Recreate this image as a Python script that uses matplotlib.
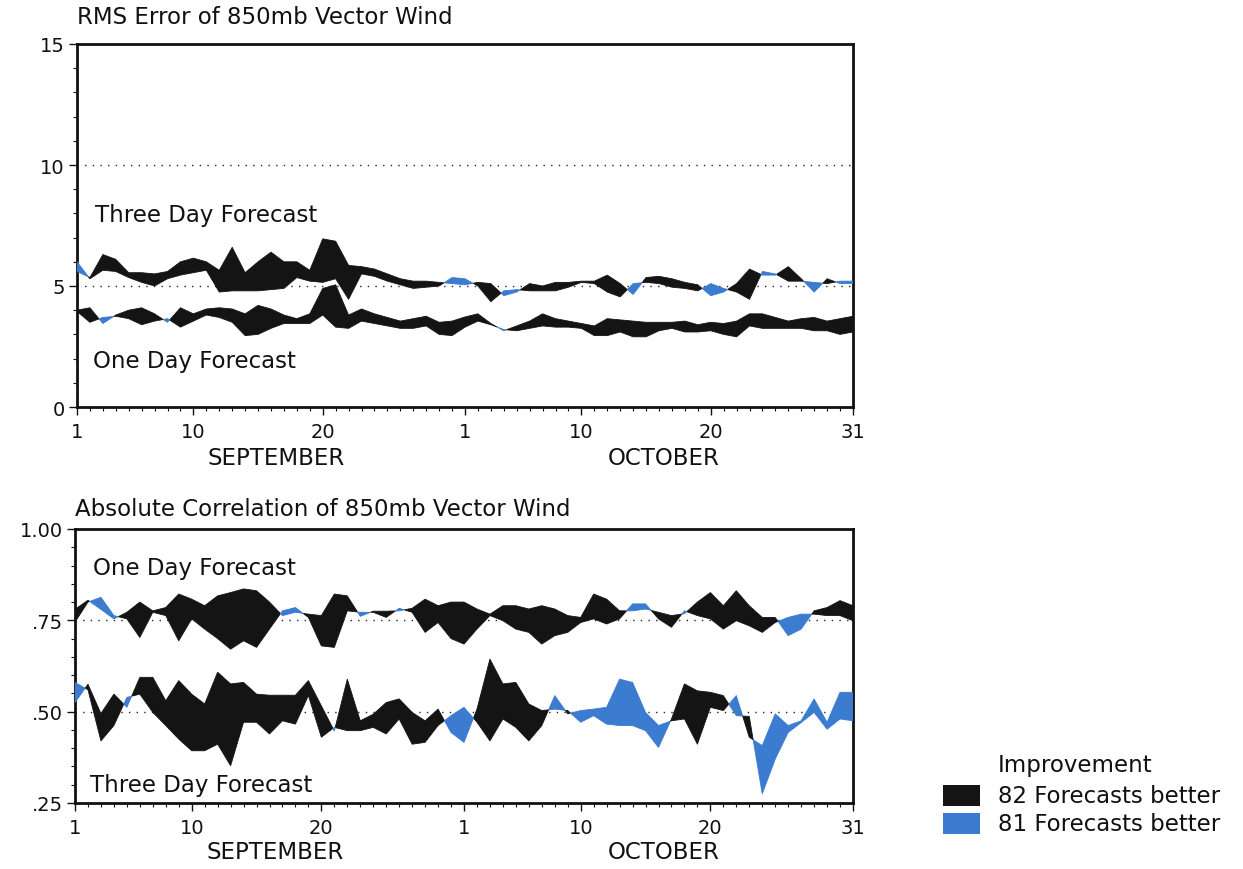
import matplotlib
matplotlib.use('Agg')
import matplotlib.pyplot as plt
import matplotlib.ticker as mticker
from matplotlib.patches import Rectangle

plt.rcParams['font.family'] = ['DejaVu Sans']

BLACK = '#141414'
BLUE = '#3b7bd0'

# day number 1..61 = Sep 1 .. Oct 31
days = list(range(1, 62))

# RMS error, three day forecast (81 and 82 forecasts)
rms3_81 = [5.6, 5.35, 6.3, 6.1, 5.55, 5.55, 5.5, 5.6, 6.0, 6.15,
           6.0, 5.65, 6.6, 5.55, 6.0, 6.4, 6.0, 6.0, 5.65, 6.95,
           6.85, 5.85, 5.8, 5.7, 5.5, 5.3, 5.2, 5.2, 5.15, 5.1,
           5.05, 5.15, 5.1, 4.6, 4.75, 5.1, 5.0, 5.15, 5.15, 5.2,
           5.2, 5.45, 5.1, 4.65, 5.35, 5.4, 5.3, 5.15, 5.05, 4.6,
           4.75, 5.1, 5.7, 5.45, 5.45, 5.8, 5.3, 4.75, 5.3, 5.1, 5.1]
rms3_82 = [6.0, 5.3, 5.65, 5.6, 5.35, 5.15, 5.0, 5.3, 5.45, 5.55,
           5.65, 4.75, 4.8, 4.8, 4.8, 4.85, 4.9, 5.35, 5.2, 5.15,
           5.3, 4.45, 5.5, 5.4, 5.2, 5.05, 4.9, 4.95, 5.0, 5.35,
           5.3, 5.0, 4.35, 4.8, 4.85, 4.8, 4.8, 4.8, 4.95, 5.15,
           5.1, 4.75, 4.55, 5.1, 5.15, 5.1, 4.95, 4.9, 4.8, 5.1,
           4.9, 4.75, 4.45, 5.6, 5.5, 5.2, 5.2, 5.15, 5.1, 5.2, 5.2]

# RMS error, one day forecast
rms1_81 = [4.0, 4.1, 3.45, 3.8, 4.0, 4.1, 3.85, 3.5, 4.1, 3.85,
           4.05, 4.1, 4.05, 3.85, 4.2, 4.05, 3.8, 3.65, 3.85, 4.9,
           5.05, 3.8, 4.05, 3.85, 3.7, 3.55, 3.65, 3.75, 3.5, 3.55,
           3.72, 3.85, 3.45, 3.15, 3.35, 3.55, 3.85, 3.65, 3.55, 3.45,
           3.35, 3.65, 3.6, 3.55, 3.5, 3.5, 3.5, 3.55, 3.4, 3.5,
           3.45, 3.55, 3.85, 3.85, 3.7, 3.55, 3.65, 3.7, 3.55, 3.65, 3.75]
rms1_82 = [3.95, 3.5, 3.7, 3.75, 3.65, 3.4, 3.55, 3.65, 3.3, 3.55,
           3.8, 3.7, 3.5, 2.95, 3.0, 3.25, 3.45, 3.45, 3.45, 3.8,
           3.3, 3.25, 3.55, 3.45, 3.35, 3.25, 3.25, 3.35, 3.0, 2.95,
           3.3, 3.55, 3.4, 3.2, 3.15, 3.25, 3.35, 3.3, 3.3, 3.25,
           2.95, 2.95, 3.1, 2.9, 2.9, 3.15, 3.25, 3.1, 3.1, 3.15,
           3.0, 2.9, 3.35, 3.25, 3.25, 3.25, 3.25, 3.15, 3.15, 3.0, 3.1]

# absolute correlation, one day forecast
cor1_81 = [0.745, 0.80, 0.813, 0.763, 0.754, 0.703, 0.772, 0.763, 0.694, 0.754,
           0.726, 0.70, 0.671, 0.694, 0.676, 0.726, 0.776, 0.785, 0.758, 0.68,
           0.676, 0.776, 0.772, 0.772, 0.758, 0.783, 0.772, 0.717, 0.744, 0.70,
           0.685, 0.726, 0.763, 0.749, 0.726, 0.717, 0.685, 0.708, 0.717, 0.744,
           0.754, 0.74, 0.754, 0.795, 0.795, 0.754, 0.731, 0.776, 0.763, 0.754,
           0.726, 0.749, 0.735, 0.717, 0.744, 0.758, 0.767, 0.767, 0.763, 0.763, 0.749]
cor1_82 = [0.78, 0.805, 0.78, 0.754, 0.772, 0.80, 0.776, 0.785, 0.822, 0.808,
           0.79, 0.817, 0.826, 0.836, 0.831, 0.80, 0.763, 0.772, 0.767, 0.763,
           0.822, 0.817, 0.761, 0.775, 0.775, 0.776, 0.783, 0.808, 0.79, 0.80,
           0.80, 0.781, 0.767, 0.79, 0.79, 0.781, 0.79, 0.781, 0.763, 0.758,
           0.822, 0.808, 0.776, 0.776, 0.781, 0.772, 0.763, 0.768, 0.80, 0.826,
           0.79, 0.831, 0.79, 0.758, 0.758, 0.708, 0.726, 0.776, 0.785, 0.804, 0.79]

# absolute correlation, three day forecast
cor3_81 = [0.58, 0.56, 0.42, 0.462, 0.539, 0.548, 0.498, 0.462, 0.425, 0.393,
           0.393, 0.411, 0.352, 0.471, 0.471, 0.439, 0.475, 0.466, 0.544, 0.43,
           0.457, 0.448, 0.448, 0.457, 0.439, 0.48, 0.411, 0.416, 0.462, 0.489,
           0.512, 0.471, 0.42, 0.48, 0.457, 0.42, 0.462, 0.544, 0.494, 0.503,
           0.507, 0.512, 0.589, 0.58, 0.498, 0.462, 0.475, 0.48, 0.411, 0.512,
           0.503, 0.544, 0.43, 0.407, 0.494, 0.462, 0.475, 0.535, 0.471, 0.553, 0.553]
cor3_82 = [0.525, 0.575, 0.495, 0.548, 0.512, 0.594, 0.594, 0.53, 0.585, 0.548,
           0.521, 0.608, 0.576, 0.58, 0.548, 0.545, 0.545, 0.545, 0.585, 0.516,
           0.447, 0.589, 0.475, 0.493, 0.525, 0.535, 0.498, 0.475, 0.507, 0.443,
           0.416, 0.507, 0.644, 0.576, 0.58, 0.521, 0.503, 0.507, 0.503, 0.471,
           0.489, 0.466, 0.462, 0.462, 0.448, 0.402, 0.48, 0.576, 0.557, 0.553,
           0.544, 0.489, 0.487, 0.275, 0.37, 0.443, 0.47, 0.498, 0.452, 0.48, 0.475]

tick_days = [1, 10, 20, 31, 40, 50, 61]
tick_labels = ['1', '10', '20', '1', '10', '20', '31']
months = ['SEPTEMBER', 'OCTOBER']
month_mid = [16.4, 46.4]

TXT = 16.5


def fill_band(ax, s81, s82, lower_is_better):
    """
    fills between the two forecast series, black where 82 wins,
    blue where 81 wins
    """
    if lower_is_better:
        better82 = [a >= b for a, b in zip(s81, s82)]
    else:
        better82 = [b >= a for a, b in zip(s81, s82)]
    better81 = [not w for w in better82]
    ax.fill_between(days, s81, s82, where=better82, interpolate=True,
                    facecolor=BLACK, edgecolor=BLACK, linewidth=0.6, zorder=3)
    ax.fill_between(days, s81, s82, where=better81, interpolate=True,
                    facecolor=BLUE, edgecolor=BLUE, linewidth=0.6, zorder=3)


def style_axis(ax, month_y):
    """
    spines, ticks and month labels shared by both panels
    """
    ax.set_xlim(1, 61)
    ax.xaxis.set_major_locator(mticker.FixedLocator(tick_days))
    ax.xaxis.set_minor_locator(mticker.MultipleLocator(1))
    ax.set_xticklabels(tick_labels)
    for side in ['left', 'right', 'top', 'bottom']:
        ax.spines[side].set_linewidth(2.0)
        ax.spines[side].set_color('#111111')
    ax.tick_params(which='major', direction='out', length=6, width=1.0,
                   labelsize=14, pad=3, colors='#111111')
    ax.tick_params(axis='x', which='major', pad=5)
    ax.tick_params(which='minor', direction='out', length=3, width=0.8,
                   colors='#111111')
    for mid, name in zip(month_mid, months):
        ax.text(mid, month_y, name, transform=ax.get_xaxis_transform(),
                ha='center', va='center', fontsize=TXT, color='#111111')


fig = plt.figure(figsize=(12.43, 8.7), dpi=100)

# RMS panel
ax1 = fig.add_axes([77 / 1243, 1 - 408 / 870, 776 / 1243, 363 / 870])
ax1.set_ylim(0, 15)
ax1.yaxis.set_major_locator(mticker.MultipleLocator(5))
ax1.yaxis.set_minor_locator(mticker.MultipleLocator(1))
for level in [5, 10]:
    ax1.axhline(level, color='#222222', linestyle=(0, (1, 4.5)), linewidth=1.0, zorder=1)
fill_band(ax1, rms3_81, rms3_82, True)
fill_band(ax1, rms1_81, rms1_82, True)
style_axis(ax1, -0.138)
ax1.text(0.023, 0.529, 'Three Day Forecast', transform=ax1.transAxes,
         ha='left', va='center', fontsize=TXT, color='#111111')
ax1.text(0.021, 0.129, 'One Day Forecast', transform=ax1.transAxes,
         ha='left', va='center', fontsize=TXT, color='#111111')
ax1.text(0.0, 1.075, 'RMS Error of 850mb Vector Wind', transform=ax1.transAxes,
         ha='left', va='center', fontsize=TXT, color='#111111')

# correlation panel
ax2 = fig.add_axes([75 / 1243, 1 - 804 / 870, 778 / 1243, 274 / 870])
ax2.set_ylim(0.25, 1.0)
ax2.yaxis.set_major_locator(mticker.MultipleLocator(0.25))
ax2.yaxis.set_minor_locator(mticker.MultipleLocator(0.05))
ax2.yaxis.set_major_formatter(mticker.FuncFormatter(
    lambda v, p: '1.00' if v >= 0.999 else ('%.2f' % v)[1:]))
for level in [0.5, 0.75]:
    ax2.axhline(level, color='#222222', linestyle=(0, (1, 4.5)), linewidth=1.0, zorder=1)
fill_band(ax2, cor1_81, cor1_82, False)
fill_band(ax2, cor3_81, cor3_82, False)
style_axis(ax2, -0.178)
ax2.text(0.023, 0.861, 'One Day Forecast', transform=ax2.transAxes,
         ha='left', va='center', fontsize=TXT, color='#111111')
ax2.text(0.019, 0.066, 'Three Day Forecast', transform=ax2.transAxes,
         ha='left', va='center', fontsize=TXT, color='#111111')
ax2.text(0.0, 1.075, 'Absolute Correlation of 850mb Vector Wind',
         transform=ax2.transAxes, ha='left', va='center', fontsize=TXT,
         color='#111111')

# legend
fig.text(998 / 1243, 1 - 766 / 870, 'Improvement', ha='left', va='center',
         fontsize=TXT, color='#111111')
legend_rows = [(BLACK, '82 Forecasts better', 797), (BLUE, '81 Forecasts better', 825)]
for color, label, ypix in legend_rows:
    fig.add_artist(Rectangle((943 / 1243, 1 - (ypix + 10) / 870), 37 / 1243, 21 / 870,
                             transform=fig.transFigure, facecolor=color,
                             edgecolor='none'))
    fig.text(998 / 1243, 1 - ypix / 870, label, ha='left', va='center',
             fontsize=TXT, color='#111111')

fig.savefig('out.png', dpi=100)
